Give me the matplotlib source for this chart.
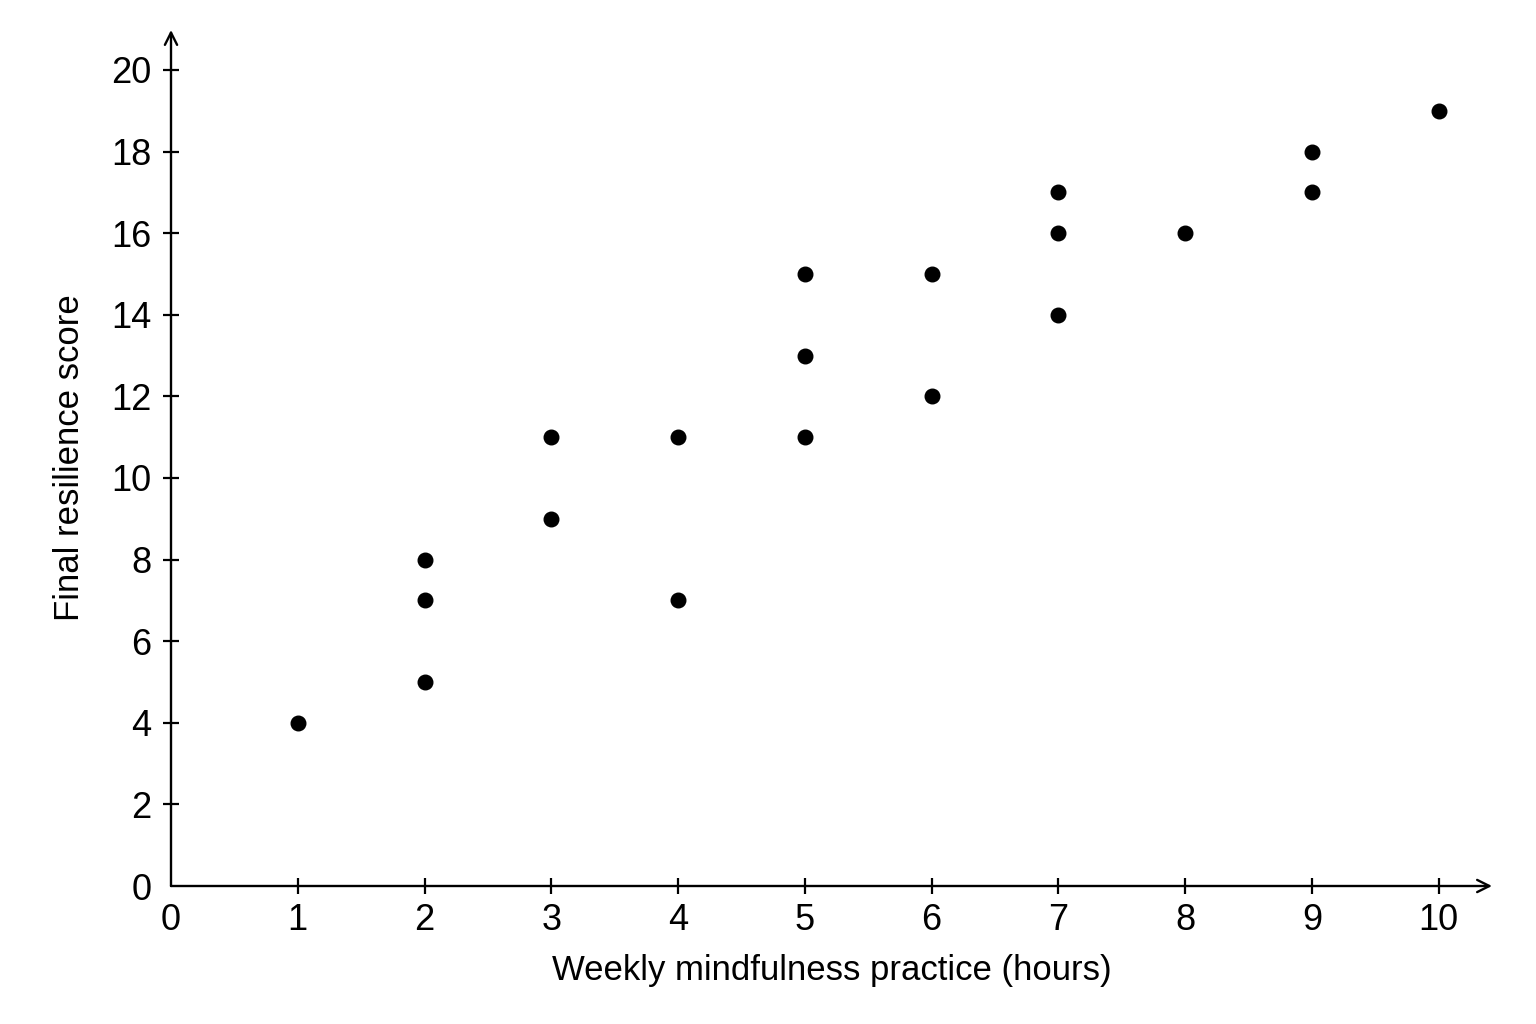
import matplotlib.pyplot as plt
import numpy as np

plt.rcParams['font.family'] = ['Liberation Sans', 'DejaVu Sans']

# data
hours = [1, 2, 2, 2, 3, 3, 4, 4, 5, 5, 5, 6, 6, 7, 7, 7, 8, 9, 9, 10]
score = [4, 8, 7, 5, 11, 9, 11, 7, 15, 13, 11, 15, 12, 17, 16, 14, 16, 18, 17, 19]
xticks = list(range(0, 11))
yticks = list(range(0, 21, 2))

fig = plt.figure(figsize=(15.36, 10.24), dpi=100)
ax = fig.add_axes([171/1536, 1-886/1024, (1492-171)/1536, (886-30)/1024])

ax.scatter(hours, score, s=110, color='black', zorder=3)

xmax = 10.42
ymax = 20.98
ax.set_xlim(0, xmax)
ax.set_ylim(0, ymax)

for s in ax.spines.values():
    s.set_visible(False)

# axes with open arrow heads
ax.annotate('', xy=(xmax, 0), xytext=(0, 0), xycoords='data',
            arrowprops=dict(arrowstyle='->', lw=1.7, color='black',
                            mutation_scale=22, shrinkA=0, shrinkB=0),
            annotation_clip=False)
ax.annotate('', xy=(0, ymax), xytext=(0, 0), xycoords='data',
            arrowprops=dict(arrowstyle='->', lw=1.7, color='black',
                            mutation_scale=22, shrinkA=0, shrinkB=0),
            annotation_clip=False)

ax.set_xticks(xticks)
ax.set_yticks(yticks)
ax.tick_params(axis='both', direction='inout', length=12, width=1.6,
               labelsize=26, colors='black')
ax.tick_params(axis='x', pad=6)
ax.tick_params(axis='y', pad=8)
ax.xaxis.get_major_ticks()[0].tick1line.set_visible(False)
ax.yaxis.get_major_ticks()[0].tick1line.set_visible(False)

ax.set_xlabel('Weekly mindfulness practice (hours)', fontsize=25, labelpad=12)
ax.set_ylabel('Final resilience score', fontsize=25, labelpad=18)

fig.savefig('out.png', dpi=100, facecolor='white')
